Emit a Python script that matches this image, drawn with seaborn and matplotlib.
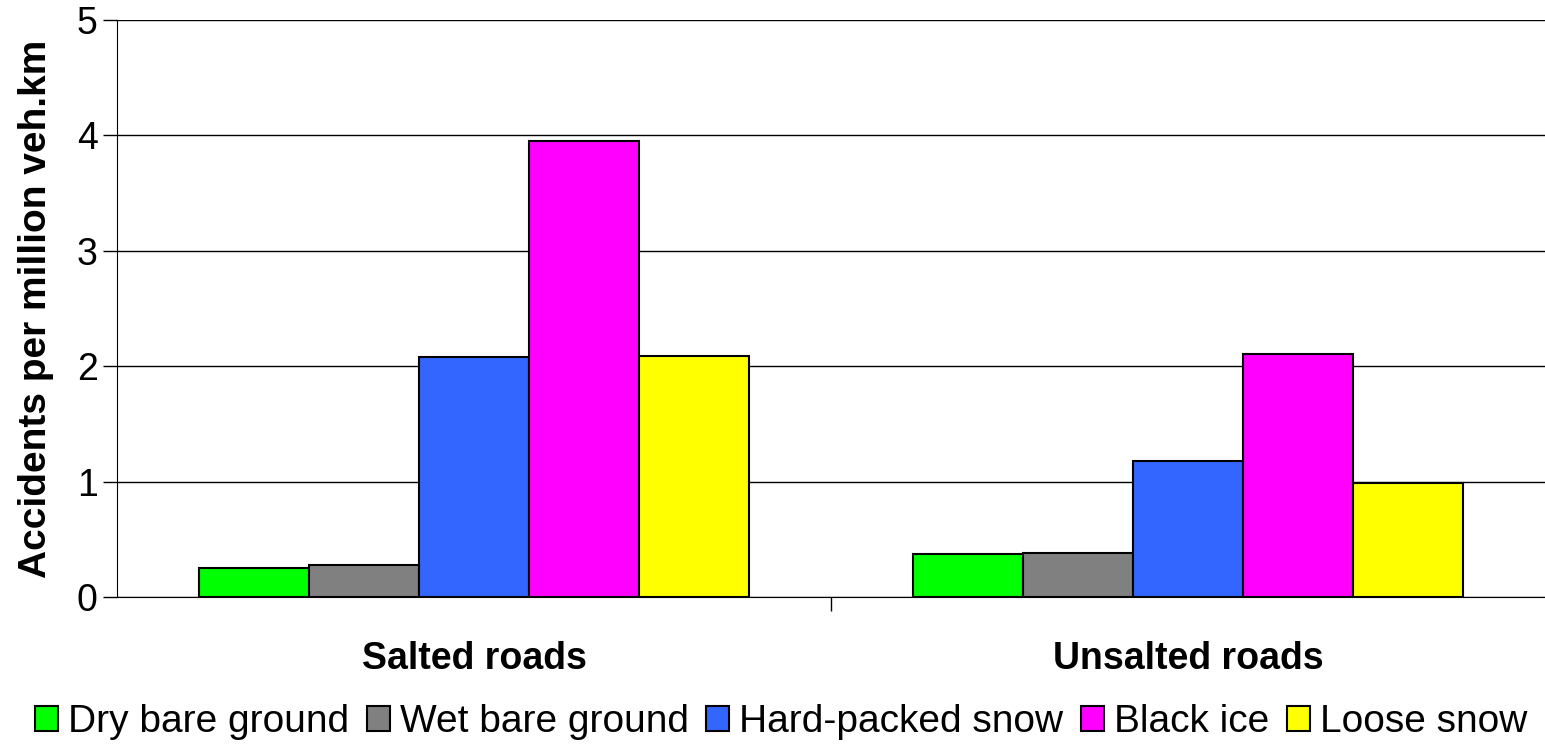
import numpy as np
import pandas as pd
import matplotlib
matplotlib.use("Agg")
import matplotlib.pyplot as plt
import seaborn as sns

# Accident rates by road surface condition
road_types = ["Salted roads", "Unsalted roads"]
conditions = ["Dry bare ground", "Wet bare ground", "Hard-packed snow", "Black ice", "Loose snow"]
salted = [0.25, 0.28, 2.08, 3.95, 2.09]
unsalted = [0.37, 0.38, 1.18, 2.11, 0.99]
colors = ["#00FF00", "#808080", "#3366FF", "#FF00FF", "#FFFF00"]

df = pd.DataFrame({
    "road": [road_types[0]] * len(conditions) + [road_types[1]] * len(conditions),
    "condition": conditions * 2,
    "rate": salted + unsalted,
})

sns.set_style("white")
plt.rcParams["font.family"] = ["Liberation Sans", "DejaVu Sans"]
plt.rcParams["text.color"] = "black"
plt.rcParams["axes.labelcolor"] = "black"
plt.rcParams["xtick.color"] = "black"
plt.rcParams["ytick.color"] = "black"

fig = plt.figure(figsize=(15.45, 7.53), dpi=100)
ax = fig.add_axes([117 / 1545, 1 - 597 / 753, 1 - 117 / 1545, (597 - 20) / 753])

sns.barplot(data=df, x="road", y="rate", hue="condition", hue_order=conditions,
            palette=colors, edgecolor="black", linewidth=1.5, width=0.77,
            saturation=1, ax=ax, legend=True)

ax.set_ylim(0, 5)
ax.set_xlim(-0.5, 1.5)
ax.set_yticks(range(6))
ax.yaxis.grid(True, color="black", linewidth=1)
ax.set_axisbelow(True)
for s in ["top", "right"]:
    ax.spines[s].set_visible(False)
ax.spines["left"].set_color("black")
ax.spines["bottom"].set_color("black")
ax.tick_params(axis="y", labelsize=27, length=10, width=1, left=True, pad=4)
ax.set_xticks([0, 1])
ax.set_xticklabels(road_types, fontsize=27, fontweight="bold")
ax.tick_params(axis="x", length=0, pad=32)
# category boundary tick in the middle
ax.set_xticks([0.5], minor=True)
ax.tick_params(axis="x", which="minor", length=10, width=1, bottom=True)

ax.set_xlabel("")
ax.set_ylabel("Accidents per million veh.km", fontsize=28, fontweight="bold", labelpad=16)

handles, labels = ax.get_legend_handles_labels()
ax.legend(handles, labels, loc="lower center", bbox_to_anchor=(0.5 - 50 / 1428, -0.275),
          ncol=5, frameon=False, fontsize=28, handlelength=0.6, handleheight=0.6,
          handletextpad=0.25, columnspacing=0.45, borderaxespad=0)

fig.savefig("out.png", dpi=100)
